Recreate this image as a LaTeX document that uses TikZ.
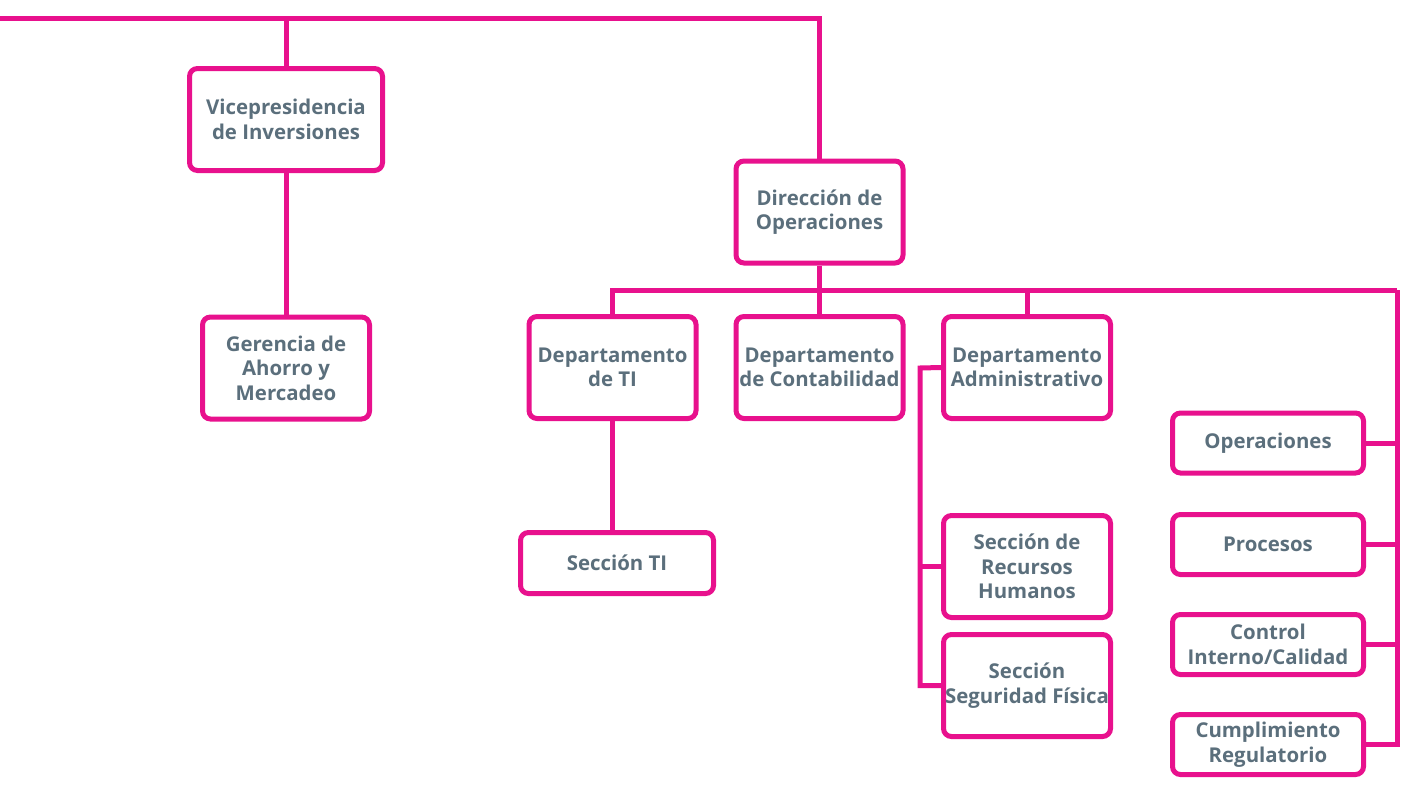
\documentclass[tikz,border=0pt]{standalone}
\usepackage{fontspec}
\setmainfont{Open Sans}
\usepackage{tikz}
\usetikzlibrary{positioning}
\definecolor{magenta}{HTML}{E8118D}
\definecolor{slate}{HTML}{5B6F7C}

\begin{document}
\begin{tikzpicture}[
            x = 1pt, y = -1pt, % pixel units
            line width = 5pt, % line style
            draw = magenta
        ]

        \tikzstyle{unit}=[
            draw = magenta,
            line width = 5pt,
            rounded corners = 8pt,
            fill = white,
            text = slate,
            font = \fontsize{20.4}{24.5}\selectfont\bfseries,
            align = center,
            inner sep = 0pt,
            minimum width = 167pt,
            minimum height = 102pt
        ]
        \tikzstyle{wide}=[unit, minimum width = 193pt]
        \tikzstyle{flat}=[unit, minimum width = 191pt, minimum height = 60pt]

        \useasboundingbox (0,0) rectangle (1405,787);

        % top level
        \coordinate (top) at (0,18);
        \node[wide] (VI) at (286,119.5) {Vicepresidencia\\de Inversiones};
        \node[unit] (GA) at (286,368) {Gerencia de\\Ahorro y\\Mercadeo};
        \node[unit] (DO) at (819.5,212) {Dirección de\\Operaciones};

        \draw (top) -| (DO.north);
        \draw (VI.north) -- (VI.north |- top);
        \draw (VI.south) -- (GA.north);

        % departments
        \coordinate (bus) at (1397,290);
        \node[unit] (DTI) at (612.5,367.5) {Departamento\\de TI};
        \node[unit] (DC) at (819.5,367.5) {Departamento\\de Contabilidad};
        \node[unit] (DA) at (1027,367.5) {Departamento\\Administrativo};

        \draw (DO.south) -- (DO.south |- bus);
        \draw (DTI.north) |- (bus);
        \draw (DC.north) -- (DC.north |- bus);
        \draw (DA.north) -- (DA.north |- bus);

        % sections
        \node[wide, minimum height = 61pt] (STI) at (617,563) {Sección TI};
        \draw (DTI.south) -- (DTI.south |- STI.north);

        \coordinate (side) at (920,368);
        \node[unit] (RH) at (1027,566.5) {Sección de\\Recursos\\Humanos};
        \node[unit] (SF) at (1027,685.5) {Sección\\Seguridad Física};

        \draw (DA.west) -- (side) |- (SF.west);
        \draw (RH.west) -- (RH.west -| side);

        % staff units
        \node[flat] (OP) at (1268,443) {Operaciones};
        \node[flat] (PR) at (1268,544.5) {Procesos};
        \node[flat] (CI) at (1268,644.5) {Control\\Interno/Calidad};
        \node[flat] (CR) at (1268,744.5) {Cumplimiento\\Regulatorio};

        \draw (bus) |- (CR.east);
        \draw (OP.east) -- (OP.east -| bus);
        \draw (PR.east) -- (PR.east -| bus);
        \draw (CI.east) -- (CI.east -| bus);

\end{tikzpicture}
\end{document}
